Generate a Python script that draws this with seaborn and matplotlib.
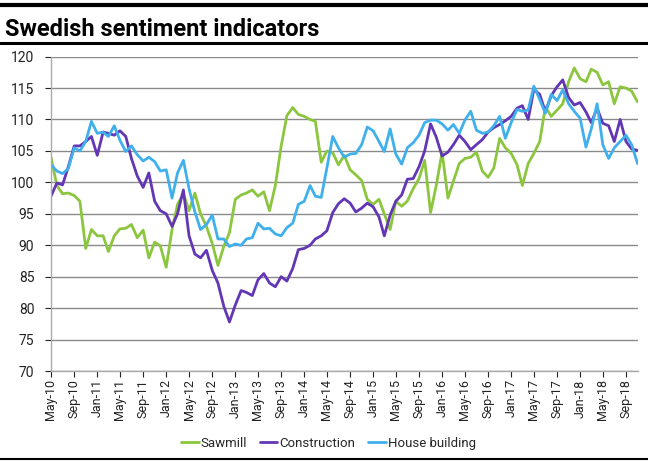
import pandas as pd
import seaborn as sns
import matplotlib.pyplot as plt
import matplotlib.dates as mdates
from matplotlib.lines import Line2D

# monthly, May-10 .. Nov-18
months = pd.date_range('2010-05-01', '2018-11-01', freq='MS')

sawmill = [104.0, 99.5, 98.2, 98.3, 97.9, 97.0, 89.5, 92.5, 91.5, 91.5,
           89.0, 91.5, 92.6, 92.7, 93.3, 91.2, 92.4, 88.0, 90.5, 89.9,
           86.5, 92.5, 96.5, 98.2, 95.5, 98.3, 95.0, 93.0, 90.3, 86.8,
           89.8, 92.0, 97.3, 98.0, 98.3, 98.8, 97.8, 98.5, 95.5, 99.5,
           105.8, 110.6, 111.9, 110.8, 110.5, 110.0, 109.7, 103.2, 105.0, 104.7,
           102.8, 104.3, 102.0, 101.2, 100.3, 97.3, 96.5, 97.3, 95.0, 92.5,
           97.0, 96.2, 97.0, 99.0, 100.6, 103.5, 95.2, 99.5, 104.8, 97.5,
           100.2, 103.0, 103.8, 104.0, 104.8, 101.8, 100.8, 102.3, 107.0, 105.5,
           104.6, 102.8, 99.5, 103.0, 104.6, 106.5, 112.0, 110.5, 111.5, 112.5,
           116.0, 118.2, 116.5, 116.0, 118.0, 117.5, 115.5, 116.0, 112.5, 115.2,
           115.0, 114.5, 112.8]

construction = [97.8, 99.9, 99.6, 102.5, 105.8, 105.8, 106.5, 107.3, 104.3, 108.0,
                107.8, 107.5, 108.2, 107.3, 103.8, 101.0, 99.2, 101.5, 97.0, 95.5,
                95.0, 93.0, 95.0, 98.8, 91.5, 88.6, 88.0, 89.2, 86.0, 84.0,
                80.3, 77.8, 80.5, 82.8, 82.5, 82.0, 84.5, 85.5, 84.0, 83.4,
                85.0, 84.3, 86.3, 89.3, 89.5, 90.0, 91.0, 91.5, 92.3, 95.2,
                96.6, 97.4, 96.7, 95.3, 95.9, 96.7, 96.1, 94.5, 91.5, 94.8,
                97.0, 98.0, 100.5, 100.6, 102.5, 105.0, 109.3, 107.2, 104.2, 104.8,
                106.0, 107.5, 106.5, 105.2, 106.0, 106.8, 108.0, 108.7, 109.2, 109.8,
                110.5, 111.8, 112.2, 110.0, 114.8, 114.0, 111.2, 113.8, 115.2, 116.3,
                113.5, 112.3, 112.7, 111.2, 109.5, 111.8, 109.4, 109.0, 106.5, 110.0,
                106.5, 105.3, 105.1]

house_building = [102.8, 101.8, 101.4, 102.2, 105.5, 105.0, 106.5, 109.7, 107.8, 108.0,
                  107.3, 109.0, 106.7, 104.9, 105.8, 104.4, 103.4, 104.0, 103.3, 101.8,
                  102.0, 97.5, 101.5, 103.5, 99.0, 95.3, 92.5, 93.3, 94.8, 91.0,
                  91.0, 89.8, 90.2, 90.0, 91.0, 91.2, 93.5, 92.6, 92.7, 91.8,
                  91.5, 92.8, 93.5, 96.5, 97.0, 99.5, 97.8, 97.6, 102.3, 107.3,
                  105.5, 104.0, 104.5, 104.6, 106.0, 108.8, 108.2, 106.5, 104.9, 108.5,
                  104.5, 102.9, 105.5, 106.3, 107.5, 109.5, 109.9, 109.9, 109.3, 108.3,
                  109.2, 107.8, 109.9, 111.3, 108.3, 107.8, 108.0, 109.0, 110.5, 107.0,
                  109.5, 111.6, 111.3, 111.5, 115.3, 113.2, 111.0, 114.0, 113.0, 114.7,
                  112.5, 111.3, 110.2, 105.6, 108.5, 112.5, 106.0, 103.8, 105.5, 106.5,
                  107.5, 106.0, 103.0]

names = ['Sawmill', 'Construction', 'House building']
colors = ['#8CC63E', '#6236B4', '#3FB0EC']

df = pd.DataFrame({'month': months, 'Sawmill': sawmill,
                   'Construction': construction, 'House building': house_building})
long = df.melt(id_vars='month', var_name='series', value_name='value')

sns.set_theme(style='white')
plt.rcParams['font.family'] = ['Roboto', 'DejaVu Sans']

fig = plt.figure(figsize=(6.48, 4.61), dpi=100)
ax = fig.add_axes([0.0787, 0.1952, 0.906, 0.682])

sns.lineplot(data=long, x='month', y='value', hue='series', hue_order=names,
             palette=colors, linewidth=2.0, legend=False, ax=ax)

ax.set_ylim(70, 120)
ax.set_yticks(range(70, 121, 5))
ax.set_xlim(months[0], pd.Timestamp('2018-11-04'))
ax.set_xticks(months[::4])
ax.xaxis.set_major_formatter(mdates.DateFormatter('%b-%y'))
ax.tick_params(axis='x', rotation=90, labelsize=9, colors='#222222', length=4,
               width=0.8, direction='out', bottom=True, pad=2)
ax.tick_params(axis='y', labelsize=10, colors='#222222', length=4,
               width=0.8, direction='out', left=True, pad=8)
for t in ax.get_xticklines() + ax.get_yticklines():
    t.set_color('#999999')
ax.set_xlabel('')
ax.set_ylabel('')
ax.grid(axis='y', color='#8a8a8a', linewidth=1.0)
ax.set_axisbelow(True)
for s in ['top', 'right']:
    ax.spines[s].set_visible(False)
for s in ['left', 'bottom']:
    ax.spines[s].set_color('#aaaaaa')
    ax.spines[s].set_linewidth(1.0)

handles = [Line2D([], [], color=c, linewidth=2.0) for c in colors]
fig.legend(handles, names, loc='center', bbox_to_anchor=(0.507, 0.039), ncol=3,
           frameon=False, fontsize=9.5, handlelength=1.3, handletextpad=0.15,
           columnspacing=1.0)

fig.text(0.008, 0.922, 'Swedish sentiment indicators', fontsize=17,
         fontweight='bold', color='black', va='baseline')
fig.add_artist(Line2D([0, 1], [0.99, 0.99], color='black', linewidth=3.0,
                      transform=fig.transFigure))
fig.add_artist(Line2D([0, 1], [0.906, 0.906], color='black', linewidth=2.2,
                      transform=fig.transFigure))
fig.add_artist(Line2D([0, 1], [0.004, 0.004], color='black', linewidth=1.5,
                      transform=fig.transFigure))

fig.savefig('out.png', dpi=100)
